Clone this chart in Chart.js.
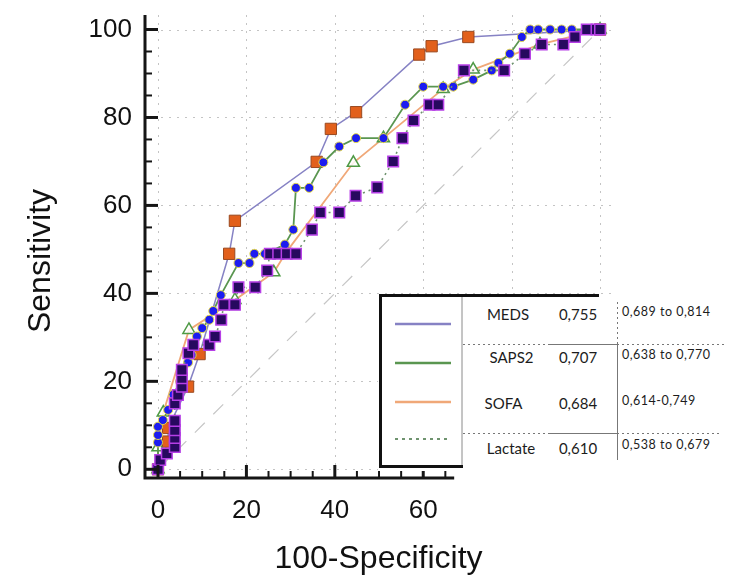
<!DOCTYPE html>
<html>
<head>
<meta charset="utf-8">
<script src="https://cdn.jsdelivr.net/npm/chart.js@4/dist/chart.umd.min.js"></script>
<style>
html, body { margin: 0; padding: 0; background: #fff; }
#wrap { position: relative; width: 738px; height: 581px; overflow: hidden; background: #fff; }
#c { position: absolute; left: 0; top: 0; }
#legendSvg { position: absolute; left: 0; top: 0; pointer-events: none; }
.lt { position: absolute; font-family: Lato, "Open Sans", sans-serif; color: #1c1c1c; white-space: nowrap; line-height: 1; transform: translate(-50%, -50%); }
.lt.name, .lt.auc { font-size: 15px; }
.lt.ci { font-size: 12.5px; letter-spacing: 0.5px; transform: translate(0, -50%); }
</style>
</head>
<body>
<div id="wrap">
  <canvas id="c" width="738" height="581"></canvas>
  <svg id="legendSvg" width="738" height="581" xmlns="http://www.w3.org/2000/svg">
    <rect x="378" y="294" width="360" height="177" fill="#fff"/>
    <rect x="457" y="471" width="281" height="57" fill="#fff"/>
    <line x1="379" y1="295.5" x2="599" y2="295.5" stroke="#111" stroke-width="3"/>
    <line x1="380.5" y1="294" x2="380.5" y2="468" stroke="#111" stroke-width="3"/>
    <line x1="379" y1="466.5" x2="463" y2="466.5" stroke="#111" stroke-width="3"/>
    <line x1="462" y1="297" x2="462" y2="465" stroke="#8a8a8a" stroke-width="1"/>
    <line x1="463" y1="344.5" x2="548" y2="344.5" stroke="#777" stroke-width="1" stroke-dasharray="2 3"/>
    <line x1="548" y1="344.5" x2="617" y2="344.5" stroke="#777" stroke-width="1"/>
    <line x1="617" y1="344.5" x2="725" y2="344.5" stroke="#777" stroke-width="1" stroke-dasharray="2 3"/>
    <line x1="463" y1="433.5" x2="548" y2="433.5" stroke="#777" stroke-width="1" stroke-dasharray="2 3"/>
    <line x1="548" y1="433.5" x2="617" y2="433.5" stroke="#777" stroke-width="1"/>
    <line x1="617" y1="433.5" x2="722" y2="433.5" stroke="#777" stroke-width="1" stroke-dasharray="2 3"/>
    <line x1="617.5" y1="302" x2="617.5" y2="342" stroke="#777" stroke-width="1" stroke-dasharray="2 3"/>
    <line x1="617.5" y1="342" x2="617.5" y2="460" stroke="#777" stroke-width="1"/>
    <g id="samples"></g>
  </svg>
  <div id="legendText"></div>
</div>
<script>
// ---------- data ----------
const tickValues = [0, 20, 40, 60, 80, 100];
const refLineX = [0, 100];
const refLineY = [0, 100];

const medsX = [0, 2.3, 2.3, 6.8, 9.4, 16.1, 17.4, 35.9, 39.1, 44.8, 59.1, 61.9, 70.2, 100];
const medsY = [0, 6.3, 9.4, 18.8, 26.2, 49.0, 56.5, 69.9, 77.4, 81.2, 94.3, 96.2, 98.3, 100];

const saps2X = [0, 0, 0, 0, 1.1, 2.3, 3.5, 5.0, 6.8, 7.6, 8.8, 10.0, 11.6, 12.5, 14.2, 18.2, 20.7, 21.8, 24.2, 28.7, 30.6, 31.2, 34.2, 37.4, 41.0, 44.8, 51.0, 55.9, 60.0, 64.5, 66.8, 71.3, 75.5, 77.0, 79.6, 82.3, 84.2, 86.0, 88.7, 91.3, 93.6, 100];
const saps2Y = [0, 6.1, 7.8, 9.7, 11.2, 13.5, 17.0, 20.0, 24.3, 26.0, 30.2, 32.1, 34.0, 36.0, 39.6, 46.9, 46.9, 49.0, 49.0, 51.1, 54.5, 64.0, 64.0, 69.8, 73.4, 75.3, 75.3, 82.9, 87.0, 87.0, 87.0, 88.6, 90.7, 92.4, 94.5, 98.3, 100, 100, 100, 100, 100, 100];

const sofaX = [0, 0, 1.2, 7.0, 17.4, 26.2, 29.1, 44.2, 51.0, 64.5, 71.3, 86.4, 100];
const sofaY = [0, 5, 12.9, 31.7, 38.5, 44.8, 49.5, 69.7, 75.3, 86.5, 90.9, 96.6, 100];

const lactateX = [0, 0.5, 2.0, 3.8, 3.8, 3.8, 3.8, 3.8, 4.5, 5.4, 5.4, 5.4, 6.9, 8.0, 11.6, 12.9, 14.3, 14.9, 17.4, 18.2, 22.0, 24.7, 25.3, 27.2, 29.1, 31.2, 34.8, 36.7, 41.0, 44.7, 49.6, 53.2, 55.3, 57.8, 61.4, 63.4, 69.2, 78.3, 83.0, 86.8, 91.7, 94.3, 97.0, 99.2, 100];
const lactateY = [0, 2.1, 3.6, 5.1, 7.1, 8.9, 11.0, 15.0, 16.9, 18.8, 20.7, 22.6, 26.4, 28.3, 28.3, 30.2, 34.0, 37.4, 37.4, 41.4, 41.4, 45.2, 49.0, 49.0, 49.0, 49.0, 54.5, 58.4, 58.4, 62.2, 64.1, 70.0, 75.3, 79.3, 82.9, 82.9, 90.7, 90.7, 94.5, 96.6, 96.6, 98.3, 100, 100, 100];

const legendNames = ['MEDS', 'SAPS2', 'SOFA', 'Lactate'];
const aucValues = ['0,755', '0,707', '0,684', '0,610'];
const ciLabels = ['0,689 to 0,814', '0,638 to 0,770', '0,614-0,749', '0,538 to 0,679'];

// ---------- styles ----------
const lineColors = ['#8682c4', '#5a9650', '#f0a878', '#6f936f'];
const toPts = (xs, ys) => xs.map((x, i) => ({ x: x, y: ys[i] }));
const tickFont = { family: '"Liberation Sans", Arial, sans-serif', size: 26 };
const titleFont = { family: '"Liberation Sans", Arial, sans-serif', size: 32 };
const xAxisEnd = 67;

const axisPlugin = {
  id: 'rocAxes',
  beforeDatasetsDraw(chart) {
    const { ctx, chartArea: a, scales: { x, y } } = chart;
    ctx.save();
    ctx.strokeStyle = '#c4c4c4';
    ctx.lineWidth = 1;
    ctx.setLineDash([2, 6]);
    tickValues.forEach(v => {
      const px = Math.round(x.getPixelForValue(v)) + 0.5;
      ctx.beginPath(); ctx.moveTo(px, a.top); ctx.lineTo(px, a.bottom); ctx.stroke();
      const py = Math.round(y.getPixelForValue(v)) + 0.5;
      ctx.beginPath(); ctx.moveTo(a.left, py); ctx.lineTo(a.right, py); ctx.stroke();
    });
    ctx.restore();
  },
  afterDatasetsDraw(chart) {
    const { ctx, chartArea: a, scales: { x, y } } = chart;
    ctx.save();
    ctx.strokeStyle = '#151515';
    ctx.setLineDash([]);
    const xEnd = x.getPixelForValue(xAxisEnd);
    ctx.lineWidth = 3;
    ctx.beginPath();
    ctx.moveTo(a.left, a.top);
    ctx.lineTo(a.left, a.bottom);
    ctx.lineTo(xEnd, a.bottom);
    ctx.stroke();
    for (let v = 0; v <= 100; v += 5) {
      const major = v % 20 === 0;
      const len = major ? 13 : 7;
      ctx.lineWidth = major ? 3 : 2;
      const py = y.getPixelForValue(v);
      ctx.beginPath(); ctx.moveTo(a.left, py); ctx.lineTo(a.left + len, py); ctx.stroke();
      const px = x.getPixelForValue(v);
      if (px < xEnd) {
        ctx.beginPath(); ctx.moveTo(px, a.bottom); ctx.lineTo(px, a.bottom - len); ctx.stroke();
      }
    }
    ctx.restore();
  },
  afterDraw(chart) {
    const { ctx } = chart;
    ctx.save();
    ctx.fillStyle = '#111';
    ctx.font = '32px "Liberation Sans", Arial, sans-serif';
    ctx.textAlign = 'center';
    ctx.textBaseline = 'middle';
    ctx.translate(41, 261);
    ctx.rotate(-Math.PI / 2);
    ctx.fillText('Sensitivity', 0, 0);
    ctx.restore();
  }
};

new Chart(document.getElementById('c'), {
  type: 'scatter',
  data: {
    datasets: [
      {
        label: 'Lactate', data: toPts(lactateX, lactateY), showLine: true,
        borderColor: lineColors[3], borderWidth: 1.6, borderDash: [2, 4],
        pointStyle: 'rect', pointRadius: 7.5, pointBackgroundColor: '#27095f',
        pointBorderColor: '#b63fe6', pointBorderWidth: 1.5, order: 0
      },
      {
        label: 'SAPS2', data: toPts(saps2X, saps2Y), showLine: true,
        borderColor: lineColors[1], borderWidth: 1.8,
        pointStyle: 'circle', pointRadius: 4.5, pointBackgroundColor: '#1c1cf0',
        pointBorderColor: '#e4d848', pointBorderWidth: 1, order: 1
      },
      {
        label: 'SOFA', data: toPts(sofaX, sofaY), showLine: true,
        borderColor: lineColors[2], borderWidth: 1.8,
        pointStyle: 'triangle', pointRadius: 7, pointBackgroundColor: 'rgba(255,255,255,0.85)',
        pointBorderColor: '#4f9a45', pointBorderWidth: 1.5, order: 2
      },
      {
        label: 'MEDS', data: toPts(medsX, medsY), showLine: true,
        borderColor: lineColors[0], borderWidth: 1.5,
        pointStyle: 'rect', pointRadius: 8, pointBackgroundColor: '#e2601c',
        pointBorderColor: '#9a4a20', pointBorderWidth: 1, order: 3
      },
      {
        label: 'reference', data: toPts(refLineX, refLineY), showLine: true,
        borderColor: '#c6c6c6', borderWidth: 1.2, borderDash: [14, 12],
        pointRadius: 0, order: 10
      }
    ]
  },
  options: {
    responsive: false,
    animation: false,
    events: [],
    layout: { padding: { left: 0, top: 15, right: 126, bottom: 0 } },
    plugins: { legend: { display: false }, tooltip: { enabled: false } },
    scales: {
      x: {
        type: 'linear', min: -2.94, max: 102.7,
        afterBuildTicks: s => { s.ticks = tickValues.map(v => ({ value: v })); },
        afterFit: s => { s.height = 103; s.paddingLeft = 0; s.paddingRight = 0; },
        grid: { display: false, drawTicks: false },
        border: { display: false },
        ticks: { padding: 17, color: '#111', font: tickFont, autoSkip: false, maxRotation: 0 },
        title: { display: true, text: '100-Specificity', color: '#111', font: titleFont, padding: { top: 0, bottom: 2.4 } }
      },
      y: {
        type: 'linear', min: -1.98, max: 103.3,
        afterBuildTicks: s => { s.ticks = tickValues.map(v => ({ value: v })); },
        afterFit: s => { s.width = 145; s.paddingTop = 0; s.paddingBottom = 0; },
        grid: { display: false, drawTicks: false },
        border: { display: false },
        ticks: { padding: 13, color: '#111', font: tickFont, autoSkip: false }
      }
    }
  },
  plugins: [axisPlugin]
});

// ---------- legend table ----------
const nameCenterX = [508, 511.5, 503.5, 511];
const rowCenterY = [314, 357, 403, 447.5];
const ciCenterY = [312, 355, 401, 445];
const sampleY = [324, 363, 402, 439];
const sampleDash = [null, null, null, '3 4'];
const sampleWidth = [2.5, 2.5, 2.5, 2.2];
const lt = document.getElementById('legendText');
const samples = document.getElementById('samples');
legendNames.forEach((name, i) => {
  const n = document.createElement('div');
  n.className = 'lt name';
  n.style.left = nameCenterX[i] + 'px';
  n.style.top = rowCenterY[i] + 'px';
  n.textContent = name;
  lt.appendChild(n);
  const a = document.createElement('div');
  a.className = 'lt auc';
  a.style.left = '578px';
  a.style.top = rowCenterY[i] + 'px';
  a.textContent = aucValues[i];
  lt.appendChild(a);
  const c = document.createElement('div');
  c.className = 'lt ci';
  c.style.left = '622px';
  c.style.top = ciCenterY[i] + 'px';
  c.textContent = ciLabels[i];
  lt.appendChild(c);
  const l = document.createElementNS('http://www.w3.org/2000/svg', 'line');
  l.setAttribute('x1', 395); l.setAttribute('x2', 451);
  l.setAttribute('y1', sampleY[i]); l.setAttribute('y2', sampleY[i]);
  l.setAttribute('stroke', lineColors[i]);
  l.setAttribute('stroke-width', sampleWidth[i]);
  if (sampleDash[i]) l.setAttribute('stroke-dasharray', sampleDash[i]);
  samples.appendChild(l);
});
</script>
</body>
</html>
